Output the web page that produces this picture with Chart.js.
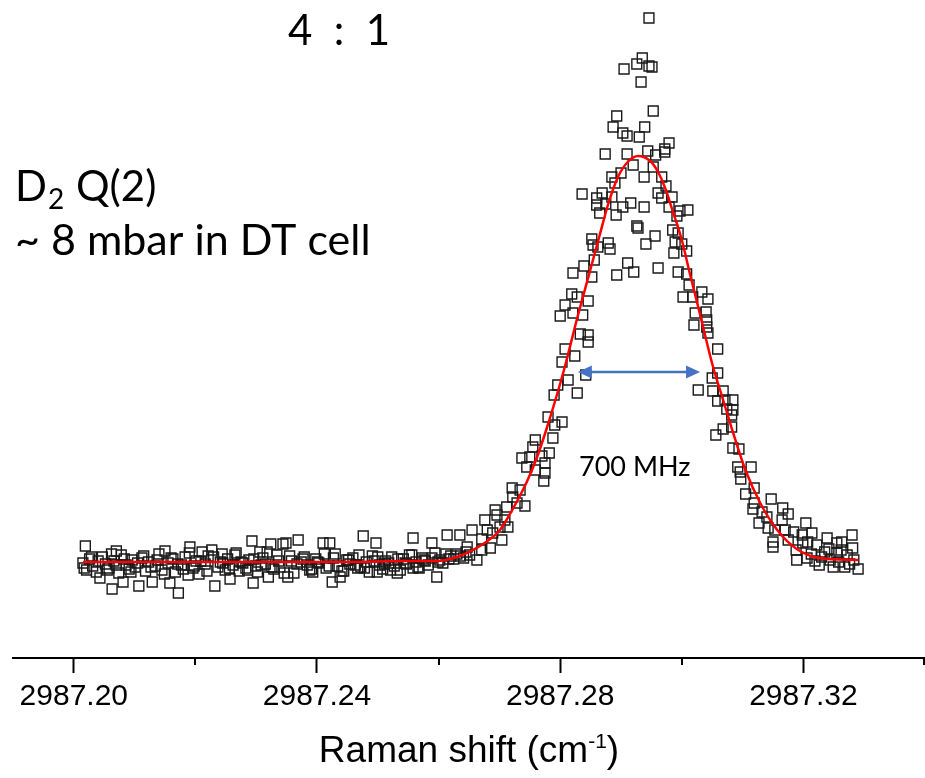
<!DOCTYPE html>
<html>
<head>
<meta charset="utf-8">
<script src="https://cdn.jsdelivr.net/npm/chart.js@4.4.1/dist/chart.umd.min.js"></script>
<style>
  html, body { margin: 0; padding: 0; background: #fff; overflow: hidden; }
  #wrap { position: relative; width: 925px; height: 778px; }
</style>
</head>
<body>
<div id="wrap"><canvas id="ramanChart"></canvas></div>
<script>
// axis ticks (Raman shift, cm-1)
const majorTicks = [2987.20, 2987.24, 2987.28, 2987.32];
const minorTicks = [2987.22, 2987.26, 2987.30, 2987.34];

// measured points, flat background
const baseShift = [
  2987.2015, 2987.2021, 2987.2026, 2987.2031, 2987.2037, 2987.2047, 2987.2052, 2987.2058, 2987.2066, 2987.2074,
  2987.2078, 2987.2086, 2987.2091, 2987.2096, 2987.2101, 2987.2112, 2987.2118, 2987.2123, 2987.2134, 2987.2140,
  2987.2145, 2987.2155, 2987.2163, 2987.2167, 2987.2177, 2987.2183, 2987.2196, 2987.2201, 2987.2206, 2987.2216,
  2987.2221, 2987.2237, 2987.2241, 2987.2249, 2987.2253, 2987.2262, 2987.2267, 2987.2272, 2987.2278, 2987.2283,
  2987.2288, 2987.2299, 2987.2302, 2987.2311, 2987.2315, 2987.2329, 2987.2334, 2987.2339, 2987.2358, 2987.2362,
  2987.2374, 2987.2379, 2987.2384, 2987.2388, 2987.2398, 2987.2403, 2987.2415, 2987.2430, 2987.2434, 2987.2444,
  2987.2449, 2987.2454, 2987.2459, 2987.2472, 2987.2481, 2987.2486, 2987.2491, 2987.2503, 2987.2508, 2987.2513,
  2987.2518, 2987.2523, 2987.2527, 2987.2537, 2987.2542, 2987.2547, 2987.2552, 2987.2563, 2987.2568, 2987.2573,
  2987.2578, 2987.2583, 2987.2594, 2987.2602, 2987.2607, 2987.2620, 2987.2625, 2987.2630, 2987.2641, 2987.2651,
  2987.2017, 2987.2029, 2987.2040, 2987.2055, 2987.2062, 2987.2070, 2987.2083, 2987.2094, 2987.2105, 2987.2115,
  2987.2127, 2987.2137, 2987.2149, 2987.2160, 2987.2171, 2987.2180, 2987.2190, 2987.2198, 2987.2209, 2987.2219,
  2987.2230, 2987.2245, 2987.2256, 2987.2265, 2987.2275, 2987.2286, 2987.2296, 2987.2308, 2987.2318, 2987.2326,
  2987.2337, 2987.2346, 2987.2355, 2987.2367, 2987.2377, 2987.2391, 2987.2401, 2987.2412, 2987.2420, 2987.2427,
  2987.2441, 2987.2452, 2987.2463, 2987.2469, 2987.2478, 2987.2494, 2987.2500, 2987.2511, 2987.2521, 2987.2533,
  2987.2545, 2987.2556, 2987.2566, 2987.2576, 2987.2589, 2987.2599, 2987.2612, 2987.2617, 2987.2636, 2987.2645
];
const baseCounts = [
  95, 88, 99, 92, 86, 101, 94, 90, 97, 85,
  103, 93, 89, 98, 91, 100, 87, 96, 92, 104,
  88, 95, 99, 86, 93, 101, 90, 97, 84, 94,
  102, 91, 96, 88, 99, 93, 105, 87, 95, 90,
  98, 92, 86, 100, 94, 89, 103, 91, 97, 85,
  96, 101, 93, 88, 99, 95, 90, 104, 92, 87,
  98, 94, 100, 91, 96, 86, 102, 93, 89, 97,
  95, 101, 92, 88, 99, 94, 103, 96, 90, 100,
  97, 93, 105, 98, 95, 102, 99, 104, 100, 103,
  90, 101, 97, 88, 104, 93, 99, 86, 95, 102,
  91, 98, 84, 100, 94, 89, 105, 92, 97, 87,
  101, 95, 90, 103, 96, 88, 99, 93, 106, 91,
  97, 85, 102, 94, 99, 89, 96, 104, 92, 100,
  87, 98, 93, 103, 90, 97, 101, 94, 88, 99,
  95, 103, 91, 98, 100, 96, 104, 99, 102, 106
];

// scattered background points away from the mean
const strayShift = [
  2987.2019, 2987.2043, 2987.2063, 2987.2070, 2987.2081, 2987.2107, 2987.2129, 2987.2150, 2987.2158, 2987.2172,
  2987.2188, 2987.2191, 2987.2211, 2987.2227, 2987.2232, 2987.2244, 2987.2257, 2987.2293, 2987.2295, 2987.2306,
  2987.2320, 2987.2324, 2987.2344, 2987.2349, 2987.2352, 2987.2369, 2987.2393, 2987.2410, 2987.2421, 2987.2425,
  2987.2438, 2987.2467, 2987.2476, 2987.2497, 2987.2499, 2987.2532, 2987.2558, 2987.2558, 2987.2589, 2987.2597,
  2987.2614, 2987.2635, 2987.2647, 2987.2655, 2987.2663
];
const strayCounts = [
  112, 80, 69, 107, 76, 72, 76, 107, 75, 65,
  83, 111, 106, 108, 72, 104, 79, 117, 75, 106,
  81, 114, 114, 115, 81, 118, 86, 115, 115, 76,
  81, 90, 122, 115, 86, 85, 120, 90, 115, 81,
  123, 123, 111, 128, 98
];

// measured points on the Q(2) line
const peakShift = [
  2987.2946, 2987.2935, 2987.2926, 2987.2946, 2987.2951, 2987.2905, 2987.2933, 2987.2953, 2987.2893, 2987.2939,
  2987.2887, 2987.2903, 2987.2910, 2987.2930, 2987.2979, 2987.2972, 2987.2944, 2987.2957, 2987.2874, 2987.2910,
  2987.2920, 2987.2953, 2987.2885, 2987.2900, 2987.2938, 2987.2890, 2987.2836, 2987.2869, 2987.2860, 2987.2885,
  2987.2961, 2987.2860, 2987.2875, 2987.2903, 2987.2916, 2987.2938, 2987.2865, 2987.2892, 2987.2926, 2987.2928,
  2987.2852, 2987.2956, 2987.2854, 2987.2879, 2987.2862, 2987.2882, 2987.2941, 2987.2856, 2987.2839, 2987.2911,
  2987.2961, 2987.2821, 2987.2852, 2987.2893, 2987.2921, 2987.2819, 2987.2828, 2987.2846, 2987.2808, 2987.2821,
  2987.2837, 2987.2800, 2987.2833, 2987.2846, 2987.2808,
  2987.2972, 2987.2967, 2987.2974, 2987.2967, 2987.2984, 2987.2979, 2987.2997, 2987.3010, 2987.2992, 2987.2985,
  2987.2994, 2987.2989, 2987.3000, 2987.3008, 2987.2987, 2987.2994, 2987.3008, 2987.3012, 2987.3002, 2987.3018,
  2987.3033, 2987.3043, 2987.3022, 2987.3040, 2987.3020, 2987.3041, 2987.3041, 2987.3043, 2987.3059,
  2987.2846, 2987.2824, 2987.2803, 2987.2842, 2987.2813, 2987.2796, 2987.2828, 2987.2790, 2987.2780, 2987.2803,
  2987.2791, 2987.2788, 2987.2759, 2987.2755, 2987.2782, 2987.2737, 2987.2750, 2987.2770, 2987.2775, 2987.2745,
  2987.2759, 2987.2775, 2987.2773, 2987.2721, 2987.2734, 2987.2722, 2987.2729, 2987.2742, 2987.2712, 2987.2693,
  2987.2696, 2987.2676, 2987.2709, 2987.2701, 2987.2714, 2987.2680, 2987.2689, 2987.2704, 2987.2671, 2987.2685,
  2987.2671,
  2987.3059, 2987.3050, 2987.3027, 2987.3051, 2987.3068, 2987.3059, 2987.3071, 2987.3084, 2987.3074, 2987.3084,
  2987.3082, 2987.3056, 2987.3068, 2987.3082, 2987.3084, 2987.3094, 2987.3092, 2987.3114, 2987.3097, 2987.3096,
  2987.3119, 2987.3105, 2987.3119, 2987.3117, 2987.3147, 2987.3132, 2987.3140, 2987.3166, 2987.3175, 2987.3165,
  2987.3127, 2987.3142, 2987.3153, 2987.3170, 2987.3184, 2987.3204, 2987.3150, 2987.3150, 2987.3175, 2987.3198,
  2987.3214, 2987.3188, 2987.3199, 2987.3207, 2987.3222, 2987.3239, 2987.3255, 2987.3263, 2987.3189, 2987.3206,
  2987.3226, 2987.3244, 2987.3249, 2987.3268, 2987.3280, 2987.3281, 2987.3283, 2987.3290, 2987.3255, 2987.3235,
  2987.3213, 2987.3230, 2987.3258, 2987.3272, 2987.3276, 2987.3262, 2987.3219, 2987.3242
];
const peakCounts = [
  640, 600, 594, 592, 591, 589, 576, 547, 542, 531,
  531, 525, 522, 521, 515, 509, 507, 503, 504, 504,
  493, 491, 481, 485, 481, 475, 464, 465, 460, 461,
  465, 453, 454, 451, 455, 451, 445, 443, 432, 430,
  419, 422, 413, 415, 411, 409, 414, 398, 392, 395,
  390, 385, 381, 383, 386, 364, 361, 357, 353, 345,
  343, 342, 324, 316, 309,
  506, 481, 472, 460, 461, 451, 447, 448, 442, 428,
  425, 416, 414, 407, 405, 386, 384, 373, 361, 361,
  366, 359, 345, 346, 333, 338, 331, 325, 309,
  323, 302, 296, 283, 278, 273, 265, 263, 241, 236,
  233, 220, 218, 211, 205, 200, 201, 202, 195, 191,
  188, 185, 177, 170, 168, 161, 155, 152, 151, 148,
  143, 138, 138, 131, 131, 128, 125, 118, 119, 110,
  108,
  285, 280, 268, 267, 267, 257, 258, 258, 249, 248,
  243, 223, 229, 231, 210, 209, 191, 191, 179, 186,
  170, 164, 155, 149, 159, 146, 141, 150, 144, 138,
  135, 130, 128, 128, 126, 135, 116, 111, 118, 123,
  125, 108, 115, 116, 113, 120, 115, 116, 98, 100,
  93, 98, 91, 91, 123, 110, 98, 89, 105, 106,
  104, 101, 96, 103, 94, 108, 97, 109
];

// Gaussian fit (red curve)
const fitShift = [
  2987.2015, 2987.2125, 2987.2290, 2987.2454, 2987.2537, 2987.2597, 2987.2630, 2987.2668, 2987.2689, 2987.2701,
  2987.2722, 2987.2745, 2987.2762, 2987.2778, 2987.2795, 2987.2808, 2987.2828, 2987.2849, 2987.2865, 2987.2879,
  2987.2895, 2987.2911, 2987.2928, 2987.2948, 2987.2961, 2987.2972, 2987.2985, 2987.3000, 2987.3013, 2987.3027,
  2987.3041, 2987.3051, 2987.3068, 2987.3084, 2987.3104, 2987.3129, 2987.3157, 2987.3189, 2987.3227, 2987.3290
];
const fitCounts = [
  96, 96, 96, 96, 97, 97, 101, 112, 121, 128,
  149, 176, 201, 230, 264, 292, 340, 387, 423, 454,
  481, 496, 502, 497, 486, 471, 447, 418, 385, 351,
  316, 292, 258, 226, 189, 155, 128, 109, 100, 98
];

// FWHM marker
const fwhmFrom = 2987.2829;
const fwhmTo = 2987.3030;
const fwhmLevel = 286;

const toPoints = (xs, ys) => xs.map((v, i) => ({ x: v, y: ys[i] }));

const annotate = {
  id: 'annotate',
  afterDraw(chart) {
    const { ctx, scales: { x, y } } = chart;
    ctx.save();

    // minor ticks (shorter)
    ctx.strokeStyle = '#000';
    ctx.lineWidth = 2;
    minorTicks.forEach(v => {
      const px = Math.min(Math.round(x.getPixelForValue(v)), chart.width - 1);
      ctx.beginPath();
      ctx.moveTo(px, y.bottom);
      ctx.lineTo(px, y.bottom + 7);
      ctx.stroke();
    });

    // double arrow for the line width
    const x1 = x.getPixelForValue(fwhmFrom);
    const x2 = x.getPixelForValue(fwhmTo);
    const ay = y.getPixelForValue(fwhmLevel);
    ctx.strokeStyle = '#4472C4';
    ctx.fillStyle = '#4472C4';
    ctx.lineWidth = 2.5;
    ctx.beginPath();
    ctx.moveTo(x1 + 10, ay);
    ctx.lineTo(x2 - 10, ay);
    ctx.stroke();
    [[x1, 1], [x2, -1]].forEach(([hx, d]) => {
      ctx.beginPath();
      ctx.moveTo(hx, ay);
      ctx.lineTo(hx + 14 * d, ay - 6.5);
      ctx.lineTo(hx + 14 * d, ay + 6.5);
      ctx.closePath();
      ctx.fill();
    });

    // labels
    ctx.fillStyle = '#000';
    ctx.textBaseline = 'alphabetic';
    ctx.textAlign = 'left';
    ctx.font = '27px Lato';
    ctx.fillText('700 MHz', 579, 476);

    ctx.font = '42px Lato';
    ctx.fillText('4  :  1', 288, 45);

    ctx.font = '42px Lato';
    ctx.fillText('D', 15, 201);
    const dW = ctx.measureText('D').width;
    ctx.font = '28px Lato';
    ctx.fillText('2', 15 + dW + 1, 209);
    const sW = ctx.measureText('2').width;
    ctx.font = '42px Lato';
    ctx.fillText(' Q(2)', 15 + dW + sW + 2, 201);
    ctx.font = '43px Lato';
    ctx.fillText('~ 8 mbar in DT cell', 15, 255);

    // axis title with superscript
    const big = '37px "Liberation Sans", Arial';
    const small = '21px "Liberation Sans", Arial';
    ctx.font = big;
    const wA = ctx.measureText('Raman shift (cm').width;
    const wC = ctx.measureText(')').width;
    ctx.font = small;
    const wB = ctx.measureText('-1').width;
    let tx = 469 - (wA + wB + wC) / 2;
    ctx.font = big;
    ctx.fillText('Raman shift (cm', tx, 762);
    tx += wA;
    ctx.font = small;
    ctx.fillText('-1', tx, 748);
    tx += wB;
    ctx.font = big;
    ctx.fillText(')', tx, 762);

    ctx.restore();
  }
};

new Chart(document.getElementById('ramanChart'), {
  type: 'scatter',
  data: {
    datasets: [
      {
        label: 'Gaussian fit',
        data: toPoints(fitShift, fitCounts),
        showLine: true,
        borderColor: '#ff0000',
        borderWidth: 2.5,
        pointRadius: 0,
        cubicInterpolationMode: 'monotone',
        order: 0
      },
      {
        label: 'Data',
        data: toPoints(baseShift, baseCounts)
          .concat(toPoints(strayShift, strayCounts))
          .concat(toPoints(peakShift, peakCounts)),
        pointStyle: 'rect',
        pointRadius: 7,
        pointBorderWidth: 1.4,
        pointBorderColor: '#1a1a1a',
        pointBackgroundColor: 'rgba(0,0,0,0)',
        order: 1
      }
    ]
  },
  options: {
    responsive: true,
    maintainAspectRatio: false,
    animation: false,
    devicePixelRatio: 1,
    layout: { autoPadding: false, padding: { left: 13, right: 0, top: 0, bottom: 57 } },
    plugins: {
      legend: { display: false },
      tooltip: { enabled: false }
    },
    scales: {
      x: {
        type: 'linear',
        min: 2987.19,
        max: 2987.34,
        afterBuildTicks: (scale) => {
          scale.ticks = majorTicks.map(v => ({ value: v }));
        },
        ticks: {
          callback: (v) => Number(v).toFixed(2),
          color: '#000',
          font: { family: '"Liberation Sans", Arial', size: 30 },
          padding: 6,
          maxRotation: 0,
          autoSkip: false
        },
        grid: {
          display: true,
          drawOnChartArea: false,
          drawTicks: true,
          tickLength: 15,
          tickWidth: 2,
          tickColor: '#000'
        },
        border: { display: true, color: '#000', width: 2 }
      },
      y: {
        display: false,
        min: 0,
        max: 658
      }
    }
  },
  plugins: [annotate]
});
</script>
</body>
</html>
